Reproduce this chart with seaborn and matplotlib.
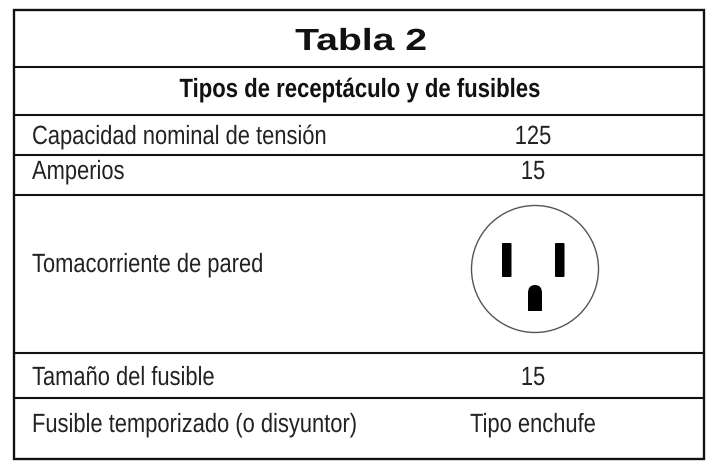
import matplotlib
matplotlib.use("Agg")
import matplotlib.pyplot as plt
from matplotlib.patches import Circle, FancyBboxPatch, PathPatch, Rectangle
from matplotlib.path import Path
from matplotlib.patheffects import AbstractPathEffect
from matplotlib.transforms import Affine2D
import seaborn as sns

# table content
title = "Tabla 2"
subtitle = "Tipos de receptáculo y de fusibles"
row_labels = ["Capacidad nominal de tensión", "Amperios", "Tomacorriente de pared",
              "Tamaño del fusible", "Fusible temporizado (o disyuntor)"]
row_values = ["125", "15", "", "15", "Tipo enchufe"]

# layout in image pixels
left, right, top, bottom = 14, 704, 10, 459
rules = [67, 115, 155, 195, 353, 398]
baselines = [144, 179, 272, 385, 432]


# the scan uses a narrow face that is not installed, so squeeze glyphs about an x pixel
class ScaleX(AbstractPathEffect):
    def __init__(self, x0, factor):
        super().__init__()
        self.x0 = x0
        self.factor = factor

    def draw_path(self, renderer, gc, tpath, affine, rgbFace=None):
        squeeze = Affine2D().translate(-self.x0, 0).scale(self.factor, 1).translate(self.x0, 0)
        renderer.draw_path(gc, tpath, affine + squeeze, rgbFace)


sns.set_theme(style="white")
plt.rcParams["font.family"] = ["Liberation Sans", "DejaVu Sans"]

fig = plt.figure(figsize=(7.11, 4.62), dpi=100)
ax = fig.add_axes([0, 0, 1, 1])
ax.set_xlim(0, 711)
ax.set_ylim(462, 0)
ax.axis("off")

ax.add_patch(Rectangle((left, top), right - left, bottom - top, fill=False, ec="#111111", lw=1.7))
for y in rules:
    ax.plot([left, right], [y, y], color="#111111", lw=1.5, solid_capstyle="butt")

ax.text(361, 50, title, ha="center", va="baseline", fontsize=22, fontweight="bold",
        color="#111111", path_effects=[ScaleX(361, 1.28)])
ax.text(360, 97, subtitle, ha="center", va="baseline", fontsize=19, fontweight="bold",
        color="#111111", path_effects=[ScaleX(360, 0.838)])

for label, value, y in zip(row_labels, row_values, baselines):
    ax.text(32, y, label, ha="left", va="baseline", fontsize=19, color="#222222",
            path_effects=[ScaleX(32, 0.83)])
    ax.text(533, y, value, ha="center", va="baseline", fontsize=19, color="#222222",
            path_effects=[ScaleX(533, 0.83)])

# receptacle
ax.add_patch(Circle((535, 269), 63.5, fill=False, ec="#555555", lw=1))
for x in [502, 555]:
    ax.add_patch(FancyBboxPatch((x, 243), 9.5, 34, boxstyle="round,pad=0,rounding_size=1",
                                fc="black", ec="none"))
ground = Path([(528, 311), (528, 293), (528, 285), (535, 285), (542, 285), (542, 293), (542, 311), (528, 311)],
              [Path.MOVETO, Path.LINETO, Path.CURVE3, Path.CURVE3, Path.CURVE3, Path.CURVE3, Path.LINETO, Path.CLOSEPOLY])
ax.add_patch(PathPatch(ground, fc="black", ec="none"))

fig.savefig("out.png", dpi=100)
